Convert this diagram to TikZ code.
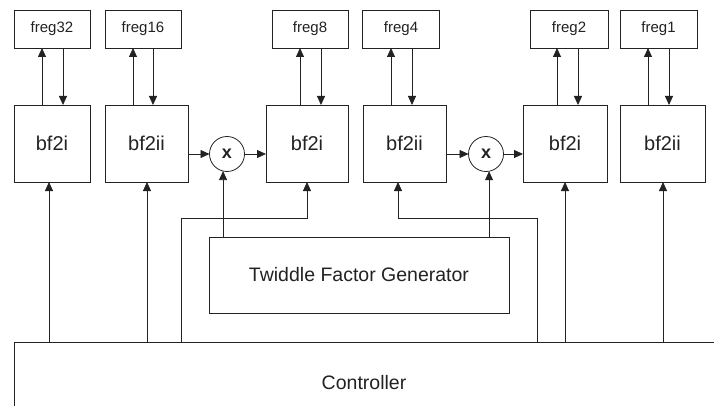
\documentclass[tikz,border=0pt]{standalone}
\usepackage{fontspec}
\setmainfont{Liberation Sans}
\usetikzlibrary{arrows.meta}
\definecolor{ink}{HTML}{222222}
\begin{document}
\begin{tikzpicture}[x=1pt,y=-1pt,
  every node/.style={inner sep=0pt,outer sep=0pt,text=ink},
  reg/.style={draw=ink,line width=0.8pt,minimum width=76pt,minimum height=38pt,font=\fontsize{15}{17}\selectfont},
  bfly/.style={draw=ink,line width=0.8pt,minimum width=83pt,minimum height=77pt,font=\fontsize{20}{23}\selectfont},
  mult/.style={draw=ink,line width=0.8pt,circle,minimum size=35pt,font=\fontsize{18}{21}\selectfont\bfseries},
  block/.style={draw=ink,line width=0.8pt,font=\fontsize{19.5}{23}\selectfont},
  arr/.style={draw=ink,line width=0.8pt,-{Triangle[length=9pt,width=8pt]}},
  wire/.style={draw=ink,line width=0.8pt}]
\useasboundingbox (0,0) rectangle (714,406);

% register files
\node[reg] (f1) at (52,29) {freg32};
\node[reg] (f2) at (143,29) {freg16};
\node[reg] (f3) at (310,29) {freg8};
\node[reg,minimum width=77pt] (f4) at (401,29) {freg4};
\node[reg,minimum width=78pt] (f5) at (569,29) {freg2};
\node[reg,minimum width=77pt] (f6) at (658.5,29) {freg1};

% butterfly stages
\node[bfly,minimum width=76pt] (b1) at (52,143.5) {bf2i};
\node[bfly] (b2) at (146.5,143.5) {bf2ii};
\node[bfly,minimum width=82pt] (b3) at (307,143.5) {bf2i};
\node[bfly] (b4) at (404.5,143.5) {bf2ii};
\node[bfly,minimum width=84pt] (b5) at (565,143.5) {bf2i};
\node[bfly,minimum width=85pt] (b6) at (662.5,143.5) {bf2ii};

% twiddle multipliers
\node[mult] (m1) at (227,154) {x};
\node[mult] (m2) at (486,154) {x};

% twiddle factor generator and controller
\node[block,minimum width=300pt,minimum height=76pt] (tw) at (359,275) {Twiddle Factor Generator};
\node[minimum width=700pt,minimum height=82pt,font=\fontsize{19.5}{23}\selectfont] (ctrl) at (364,383) {Controller};
\draw[wire] (ctrl.north east) -- (ctrl.north west) -- (ctrl.south west);

% register read/write paths
\draw[arr] (b1.north -| 42,0) -- (f1.south -| 42,0);
\draw[arr] (f1.south -| 63,0) -- (b1.north -| 63,0);
\draw[arr] (b2.north -| 133,0) -- (f2.south -| 133,0);
\draw[arr] (f2.south -| 153,0) -- (b2.north -| 153,0);
\draw[arr] (b3.north -| 300,0) -- (f3.south -| 300,0);
\draw[arr] (f3.south -| 321,0) -- (b3.north -| 321,0);
\draw[arr] (b4.north -| 391,0) -- (f4.south -| 391,0);
\draw[arr] (f4.south -| 412,0) -- (b4.north -| 412,0);
\draw[arr] (b5.north -| 557,0) -- (f5.south -| 557,0);
\draw[arr] (f5.south -| 578,0) -- (b5.north -| 578,0);
\draw[arr] (b6.north -| 648,0) -- (f6.south -| 648,0);
\draw[arr] (f6.south -| 669,0) -- (b6.north -| 669,0);

% data path through the multipliers
\draw[arr] (b2.east |- m1) -- (m1.west);
\draw[arr] (m1.east) -- (m1.east -| b3.west);
\draw[arr] (b4.east |- m2) -- (m2.west);
\draw[arr] (m2.east) -- (m2.east -| b5.west);

% twiddle factors
\draw[arr] (tw.north -| m1.257) -- (m1.257);
\draw[arr] (tw.north -| m2.280) -- (m2.280);

% control lines
\draw[arr] (ctrl.north -| 49,0) -- (b1.south -| 49,0);
\draw[arr] (ctrl.north -| 147,0) -- (b2.south -| 147,0);
\draw[arr] (ctrl.north -| 181,0) -- (181,218) -- (b3.south |- 0,218) -- (b3.south);
\draw[arr] (ctrl.north -| 537,0) -- (537,218) -- (398,218) -- (b4.south -| 398,0);
\draw[arr] (ctrl.north -| 565,0) -- (b5.south -| 565,0);
\draw[arr] (ctrl.north -| 663,0) -- (b6.south -| 663,0);
\end{tikzpicture}
\end{document}
